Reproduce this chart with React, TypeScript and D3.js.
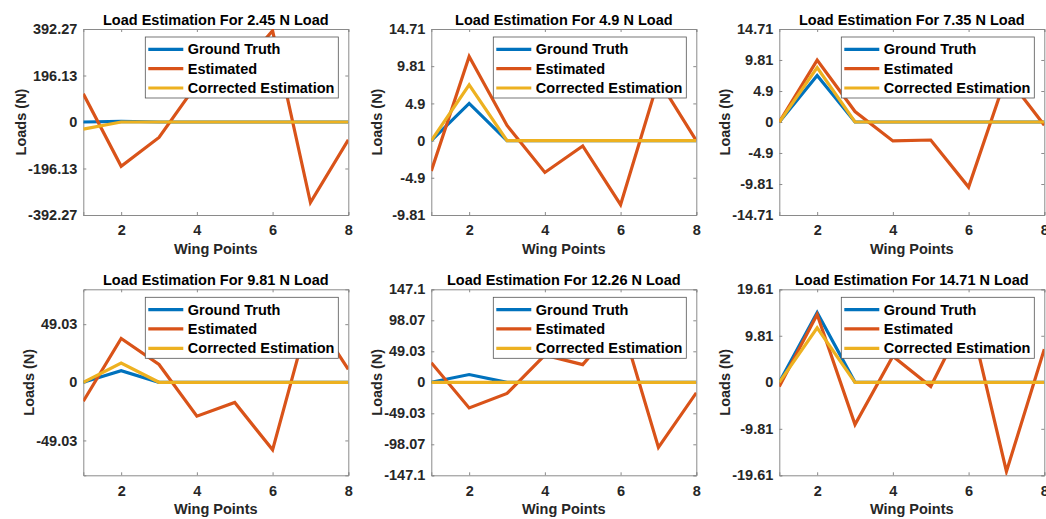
import React, { useEffect, useRef } from 'react';
import * as d3 from 'd3';

// Wing point indices along the x axis
const wingPoints = [1, 2, 3, 4, 5, 6, 7, 8];
const xTicks = [2, 4, 6, 8];

const panelTitles = [
  'Load Estimation For 2.45 N Load',
  'Load Estimation For 4.9 N Load',
  'Load Estimation For 7.35 N Load',
  'Load Estimation For 9.81 N Load',
  'Load Estimation For 12.26 N Load',
  'Load Estimation For 14.71 N Load',
];

const seriesNames = ['Ground Truth', 'Estimated', 'Corrected Estimation'];
const seriesColors = ['#0072BD', '#D95319', '#EDB120'];

const groundTruth = [
  [0, 2.45, 0, 0, 0, 0, 0, 0],
  [0, 4.9, 0, 0, 0, 0, 0, 0],
  [0, 7.35, 0, 0, 0, 0, 0, 0],
  [0, 9.81, 0, 0, 0, 0, 0, 0],
  [0, 12.26, 0, 0, 0, 0, 0, 0],
  [0, 14.71, 0, 0, 0, 0, 0, 0],
];

const estimated = [
  [119, -187, -65, 160, 200, 385, -340, -75],
  [-4.0, 11.1, 2.0, -4.2, -0.7, -8.45, 8.0, 0],
  [0, 9.8, 1.65, -3.0, -2.85, -10.3, 7.3, -0.5],
  [-16, 37, 15, -28.6, -17, -57, 60, 11],
  [31, -40.6, -17.6, 43, 28, 98, -103, -16.6],
  [-0.9, 14.3, -8.9, 5.5, -0.9, 15, -18.8, 7.0],
];

const corrected = [
  [-30, 0, 0, 0, 0, 0, 0, 0],
  [0, 7.35, 0, 0, 0, 0, 0, 0],
  [0, 8.6, 0, 0, 0, 0, 0, 0],
  [0, 16.3, 0, 0, 0, 0, 0, 0],
  [0, 0, 0, 0, 0, 0, 0, 0],
  [0, 11.5, 0, 0, 0, 0, 0, 0],
];

const yDomains: [number, number][] = [
  [-392.27, 392.27],
  [-9.81, 14.71],
  [-14.71, 14.71],
  [-78.45, 78.45],
  [-147.1, 147.1],
  [-19.61, 19.61],
];

const yTicks = [
  [-392.27, -196.13, 0, 196.13, 392.27],
  [-9.81, -4.9, 0, 4.9, 9.81, 14.71],
  [-14.71, -9.81, -4.9, 0, 4.9, 9.81, 14.71],
  [-49.03, 0, 49.03],
  [-147.1, -98.07, -49.03, 0, 49.03, 98.07, 147.1],
  [-19.61, -9.81, 0, 9.81, 19.61],
];

const WIDTH = 1046;
const HEIGHT = 519;
const FONT = '"Liberation Sans", Arial, sans-serif';
const FONT_SIZE = 14.5;
const TEXT_COLOR = '#262626';
const AXIS_COLOR = '#8a8a8a';

export default function App() {
  const svgRef = useRef<SVGSVGElement>(null);

  useEffect(() => {
    if (!svgRef.current) return;
    const svg = d3.select(svgRef.current);
    svg.selectAll('*').remove();

    const plotW = 265;
    const plotH = 186;

    panelTitles.forEach((title, i) => {
      const col = i % 3;
      const row = Math.floor(i / 3);
      const left = 83.3 + col * 348;
      const top = 29 + row * 260.3;

      const x = d3.scaleLinear().domain([1, 8]).range([0, plotW]);
      const y = d3.scaleLinear().domain(yDomains[i]).range([plotH, 0]);

      const g = svg.append('g').attr('transform', `translate(${left},${top})`);

      const clipId = `clip-${i}`;
      g.append('clipPath')
        .attr('id', clipId)
        .append('rect')
        .attr('width', plotW)
        .attr('height', plotH);

      g.append('rect')
        .attr('width', plotW)
        .attr('height', plotH)
        .attr('fill', '#fff');

      const fmt = (d: d3.NumberValue) => String(d);

      // Axes with inward ticks on all four sides
      const yAxis = g.append('g').call(
        d3.axisLeft(y).tickValues(yTicks[i]).tickSize(-3).tickPadding(6).tickFormat(fmt)
      );
      g.append('g')
        .attr('transform', `translate(${plotW},0)`)
        .call(d3.axisRight(y).tickValues(yTicks[i]).tickSize(-3).tickFormat(() => ''));
      const xAxis = g.append('g')
        .attr('transform', `translate(0,${plotH})`)
        .call(d3.axisBottom(x).tickValues(xTicks).tickSize(-3).tickPadding(10).tickFormat(fmt));
      g.append('g').call(d3.axisTop(x).tickValues(xTicks).tickSize(-3).tickFormat(() => ''));

      g.selectAll('.domain').attr('stroke', AXIS_COLOR);
      g.selectAll('.tick line').attr('stroke', AXIS_COLOR);
      [yAxis, xAxis].forEach((a) =>
        a.selectAll('text')
          .attr('font-family', FONT)
          .attr('font-size', FONT_SIZE)
          .attr('font-weight', 'bold')
          .attr('fill', TEXT_COLOR)
      );
      xAxis.selectAll('text').attr('dy', '0.71em');

      // Series lines
      const line = d3
        .line<number>()
        .x((_, j) => x(wingPoints[j]))
        .y((d) => y(d));

      const lines = g.append('g').attr('clip-path', `url(#${clipId})`);
      [groundTruth[i], estimated[i], corrected[i]].forEach((vals, k) => {
        lines.append('path')
          .attr('d', line(vals))
          .attr('fill', 'none')
          .attr('stroke', seriesColors[k])
          .attr('stroke-width', 3.2);
      });

      // Title
      g.append('text')
        .attr('x', plotW / 2)
        .attr('y', -4)
        .attr('text-anchor', 'middle')
        .attr('font-family', FONT)
        .attr('font-size', FONT_SIZE)
        .attr('font-weight', 'bold')
        .attr('fill', '#000')
        .text(title);

      // X label
      g.append('text')
        .attr('x', plotW / 2)
        .attr('y', plotH + 39)
        .attr('text-anchor', 'middle')
        .attr('font-family', FONT)
        .attr('font-size', FONT_SIZE)
        .attr('font-weight', 'bold')
        .attr('fill', TEXT_COLOR)
        .text('Wing Points');

      // Y label, placed left of the widest tick label
      let maxW = 0;
      yAxis.selectAll<SVGTextElement, unknown>('text').each(function () {
        maxW = Math.max(maxW, this.getComputedTextLength());
      });
      const labelX = -Math.max(maxW + 13, 54);
      g.append('text')
        .attr('transform', `translate(${labelX},${plotH / 2}) rotate(-90)`)
        .attr('dy', '0.35em')
        .attr('text-anchor', 'middle')
        .attr('font-family', FONT)
        .attr('font-size', FONT_SIZE)
        .attr('font-weight', 'bold')
        .attr('fill', TEXT_COLOR)
        .text('Loads (N)');

      // Legend
      const legW = 193;
      const legH = 61;
      const legend = g.append('g')
        .attr('transform', `translate(${plotW - 10 - legW},8)`);
      legend.append('rect')
        .attr('width', legW)
        .attr('height', legH)
        .attr('fill', '#fff')
        .attr('stroke', '#555')
        .attr('stroke-width', 0.8);
      seriesNames.forEach((name, k) => {
        const cy = 12.3 + k * 19.35;
        legend.append('line')
          .attr('x1', 3)
          .attr('x2', 38)
          .attr('y1', cy)
          .attr('y2', cy)
          .attr('stroke', seriesColors[k])
          .attr('stroke-width', 3.2);
        legend.append('text')
          .attr('x', 42.5)
          .attr('y', cy)
          .attr('dy', '0.35em')
          .attr('font-family', FONT)
          .attr('font-size', FONT_SIZE)
          .attr('font-weight', 'bold')
          .attr('fill', '#000')
          .text(name);
      });
    });
  }, []);

  return (
    <svg
      ref={svgRef}
      width={WIDTH}
      height={HEIGHT}
      style={{ position: 'absolute', left: 0, top: 0, background: '#fff' }}
    />
  );
}
